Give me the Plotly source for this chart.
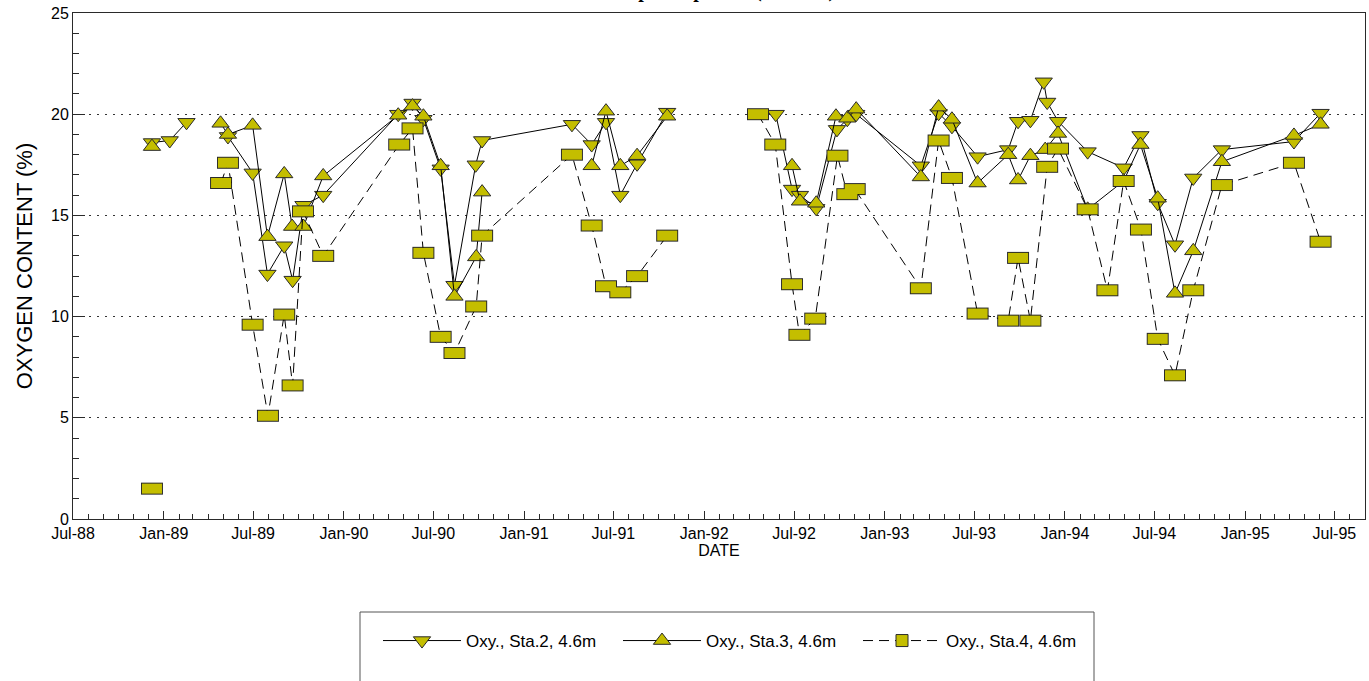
import plotly.graph_objects as go

# ---------------- data ----------------
sta2_dates = ["1988-12-08", "1989-01-13", "1989-02-16", "1989-03-30", "1989-05-11", "1989-06-30",
              "1989-07-30", "1989-09-02", "1989-09-19", "1989-10-11", "1989-11-20", "1990-04-21",
              "1990-05-20", "1990-06-11", "1990-07-16", "1990-08-13", "1990-09-25", "1990-10-08",
              "1991-04-08", "1991-05-18", "1991-06-16", "1991-07-15", "1991-08-18", "1991-10-18",
              "1992-01-15", "1992-05-25", "1992-06-27", "1992-07-13", "1992-08-15", "1992-09-26",
              "1992-10-17", "1992-11-04", "1993-03-15", "1993-04-20", "1993-05-17", "1993-07-08",
              "1993-09-08", "1993-09-28", "1993-10-23", "1993-11-19", "1993-11-26", "1993-12-18",
              "1994-02-16", "1994-04-30", "1994-06-03", "1994-07-08", "1994-08-12", "1994-09-18",
              "1994-11-15", "1995-04-10", "1995-06-03"]
sta2_values = [18.6, 18.7, 19.6, None, 18.9, 17.1,
               12.1, 13.5, 11.8, 15.5, 16.0, 20.0,
               20.55, 19.75, 17.3, 11.55, 17.5, 18.7,
               19.5, 18.5, 19.6, 16.0, 17.55, 20.1,
               None, 20.0, 16.3, 16.0, 15.35, 19.25,
               19.75, 20.0, 17.45, 20.05, 19.4, 17.9,
               18.25, 19.65, 19.7, 21.6, 20.6, 19.65,
               18.15, 17.35, 18.95, 15.6, 13.55, 16.85,
               18.25, 18.65, 20.05]

sta3_dates = ["1988-12-08", "1989-03-01", "1989-04-26", "1989-05-11", "1989-06-30", "1989-07-30",
              "1989-09-02", "1989-09-18", "1989-10-11", "1989-11-20", "1990-04-21", "1990-05-20",
              "1990-06-11", "1990-07-16", "1990-08-13", "1990-09-26", "1990-10-08", "1991-01-15",
              "1991-05-18", "1991-06-16", "1991-07-15", "1991-08-18", "1991-10-18", "1992-01-15",
              "1992-06-27", "1992-07-13", "1992-08-15", "1992-09-24", "1992-10-17", "1992-11-04",
              "1993-03-15", "1993-04-20", "1993-05-17", "1993-07-08", "1993-09-08", "1993-09-28",
              "1993-10-23", "1993-11-22", "1993-12-18", "1994-02-16", "1994-04-30", "1994-06-03",
              "1994-07-08", "1994-08-12", "1994-09-18", "1994-11-15", "1995-04-10", "1995-06-03"]
sta3_values = [18.4, None, 19.55, 19.0, 19.45, 13.95,
               17.05, 14.45, 14.45, 16.95, 19.95, 20.4,
               19.9, 17.45, 11.0, 12.95, 16.15, None,
               17.45, 20.15, 17.45, 17.95, 19.9, None,
               17.45, 15.7, 15.6, 19.9, 19.8, 20.25,
               16.9, 20.35, 19.75, 16.6, 18.0, 16.75,
               17.95, 18.25, 19.05, 15.3, 16.7, 18.5,
               15.85, 11.15, 13.25, 17.65, 18.95, 19.5]

sta4_dates = ["1988-12-08", "1989-03-01", "1989-04-27", "1989-05-11", "1989-06-30", "1989-07-31",
              "1989-09-02", "1989-09-19", "1989-10-10", "1989-11-20", "1990-04-23", "1990-05-20",
              "1990-06-11", "1990-07-16", "1990-08-13", "1990-09-26", "1990-10-08", "1991-04-08",
              "1991-05-18", "1991-06-16", "1991-07-15", "1991-08-18", "1991-10-18", "1992-01-15",
              "1992-04-19", "1992-05-24", "1992-06-27", "1992-07-12", "1992-08-13", "1992-09-27",
              "1992-10-17", "1992-11-01", "1993-03-15", "1993-04-20", "1993-05-17", "1993-07-08",
              "1993-09-08", "1993-09-28", "1993-10-23", "1993-11-26", "1993-12-18", "1994-02-16",
              "1994-03-28", "1994-04-30", "1994-06-04", "1994-07-08", "1994-08-12", "1994-09-18",
              "1994-11-15", "1995-04-10", "1995-06-03"]
sta4_values = [1.5, None, 16.6, 17.6, 9.6, 5.1,
               10.1, 6.6, 15.2, 13.0, 18.5, 19.3,
               13.15, 9.0, 8.2, 10.5, 14.0, 18.0,
               14.5, 11.5, 11.2, 12.0, 14.0, None,
               20.0, 18.5, 11.6, 9.1, 9.9, 17.95,
               16.05, 16.3, 11.4, 18.7, 16.85, 10.15,
               9.8, 12.9, 9.8, 17.4, 18.3, 15.3,
               11.3, 16.7, 14.3, 8.9, 7.1, 11.3,
               16.5, 17.6, 13.7]

series_names = ["Oxy., Sta.2, 4.6m", "Oxy., Sta.3, 4.6m", "Oxy., Sta.4, 4.6m"]
title_text = "Deep Sump Area (1988-95)"
x_title = "DATE"
y_title = "OXYGEN CONTENT (%)"

# ---------------- styling ----------------
FILL = "#C4BE00"
EDGE = "#2a2a2a"
FONT = "Liberation Sans, Arial, sans-serif"

fig = go.Figure()

fig.add_trace(go.Scatter(
    x=sta2_dates, y=sta2_values, name=series_names[0], mode="lines+markers",
    line=dict(color="black", width=1),
    marker=dict(symbol="triangle-down", size=15, color=FILL, line=dict(color=EDGE, width=1)),
))
fig.add_trace(go.Scatter(
    x=sta3_dates, y=sta3_values, name=series_names[1], mode="lines+markers",
    line=dict(color="black", width=1),
    marker=dict(symbol="triangle-up", size=15, color=FILL, line=dict(color=EDGE, width=1)),
))
# rectangle markers: a dark thick bar under a slightly smaller yellow bar
fig.add_trace(go.Scatter(
    x=sta4_dates, y=sta4_values, name=series_names[2], mode="markers", showlegend=False,
    marker=dict(symbol="line-ew", size=15.7, color=EDGE, line=dict(color=EDGE, width=12)),
    hoverinfo="skip",
))
fig.add_trace(go.Scatter(
    x=sta4_dates, y=sta4_values, name=series_names[2], mode="lines+markers", showlegend=False,
    legendgroup="sta4",
    line=dict(color="black", width=1, dash="10px,6px"),
    marker=dict(symbol="line-ew", size=14.3, color=FILL, line=dict(color=FILL, width=10)),
))
# legend entry for Sta.4 (no data points of its own)
fig.add_trace(go.Scatter(
    x=[None], y=[None], name=series_names[2], mode="lines+markers", legendgroup="sta4",
    line=dict(color="black", width=1, dash="10px,6px"),
    marker=dict(symbol="square", size=12, color=FILL, line=dict(color=EDGE, width=1)),
))

axis_common = dict(
    showline=True, linecolor=EDGE, linewidth=1, mirror=True,
    ticks="inside", tickcolor=EDGE, tickwidth=1,
    tickfont=dict(family=FONT, size=16, color="black"),
    zeroline=False,
)

fig.update_layout(
    width=1369, height=681,
    margin=dict(l=73, r=4, t=13, b=162),
    paper_bgcolor="white", plot_bgcolor="white",
    font=dict(family=FONT, color="black"),
    xaxis=dict(
        **axis_common,
        type="date", range=["1988-07-01", "1995-09-01"],
        tick0="1988-07-01", dtick="M6", tickformat="%b-%y", ticklen=8,
        showgrid=False,
        minor=dict(dtick="M1", ticks="inside", ticklen=5, tickcolor=EDGE, showgrid=False),
        title=dict(text=x_title, font=dict(family=FONT, size=16), standoff=0),
    ),
    yaxis=dict(
        **axis_common,
        range=[0, 25], tick0=0, dtick=5, ticklen=12,
        showgrid=True, gridcolor="#333333", gridwidth=1, griddash="2px,6px",
        minor=dict(dtick=1, ticks="inside", ticklen=6, tickcolor=EDGE, showgrid=False),
        title=dict(text=y_title, font=dict(family=FONT, size=22), standoff=12),
    ),
    legend=dict(
        orientation="h", x=(378 - 73) / 1292, xanchor="left",
        y=(519 - 641) / 506, yanchor="middle",
        font=dict(family=FONT, size=17), bgcolor="rgba(0,0,0,0)",
        itemwidth=78, entrywidth=147, entrywidthmode="pixels",
    ),
    showlegend=True,
)

# legend frame (extends past the bottom edge as in the reference)
fig.add_shape(type="rect", xref="paper", yref="paper",
              x0=(360 - 73) / 1292, x1=(1094 - 73) / 1292,
              y0=(519 - 612) / 506, y1=(519 - 720) / 506,
              line=dict(color="#555555", width=1), fillcolor="rgba(0,0,0,0)", layer="below")

# title, mostly above the visible page as in the reference
fig.add_annotation(text="<b>" + title_text + "</b>", xref="paper", yref="paper",
                   x=(720 - 73) / 1292, y=1, xanchor="center", yanchor="middle",
                   yshift=23, showarrow=False,
                   font=dict(family="Liberation Serif, Times New Roman, serif", size=20, color="black"))

fig.write_html("out.html", config={"displayModeBar": False},
               post_script="document.body.style.margin='0';")
